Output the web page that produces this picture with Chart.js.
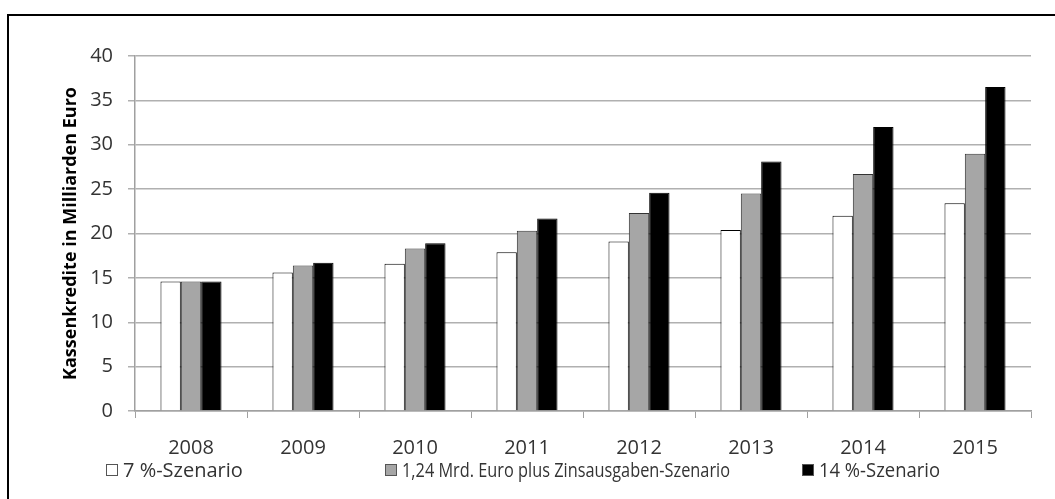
<!DOCTYPE html>
<html>
<head>
<meta charset="utf-8">
<script src="https://cdn.jsdelivr.net/npm/chart.js@4"></script>
<style>
  body { margin: 0; background: #fff; }
  #wrap { position: relative; width: 1055px; height: 499px; }
  #frame { position: absolute; left: 7px; top: 14px; right: 0; bottom: 0;
           border-left: 2px solid #000; border-top: 2px solid #000; pointer-events: none; }
  #legend { position: absolute; left: 0; top: 458px; width: 1055px; height: 24px;
            font-family: "Open Sans", sans-serif; font-size: 20px; color: #333; }
  #legend .item { position: absolute; top: 0; white-space: nowrap; line-height: 24px; }
  #legend .box { position: absolute; left: 0; top: 6px; width: 10px; height: 10px;
                 border: 1px solid #555; }
  #legend .txt { position: absolute; left: 17px; top: 0; display: inline-block;
                 transform-origin: 0 50%; }
</style>
</head>
<body>
<div id="wrap">
  <canvas id="paramChart" width="1055" height="499"></canvas>
  <div id="frame"></div>
  <div id="legend"></div>
</div>
<script>
var years = ['2008', '2009', '2010', '2011', '2012', '2013', '2014', '2015'];
var szenario7 = [14.6, 15.6, 16.6, 17.9, 19.1, 20.4, 22.0, 23.4];
var szenarioZins = [14.6, 16.4, 18.3, 20.3, 22.3, 24.5, 26.7, 29.0];
var szenario14 = [14.6, 16.7, 18.9, 21.7, 24.6, 28.1, 32.0, 36.5];
var seriesLabels = ['7 %-Szenario', '1,24 Mrd. Euro plus Zinsausgaben-Szenario', '14 %-Szenario'];
var yTicks = [0, 5, 10, 15, 20, 25, 30, 35, 40];

var fontFamily = '"Open Sans", sans-serif';
var colors = ['#ffffff', '#a6a6a6', '#000000'];
var legendX = [106, 385, 802];
var legendTextWidth = [120, 328, 121]; // widths of the labels in the original (condensed font)

var chartdata = {
  labels: years,
  datasets: [
    { label: seriesLabels[0], data: szenario7, backgroundColor: colors[0], borderColor: '#000', borderWidth: 1 },
    { label: seriesLabels[1], data: szenarioZins, backgroundColor: colors[1], borderColor: '#333', borderWidth: 1 },
    { label: seriesLabels[2], data: szenario14, backgroundColor: colors[2], borderColor: '#000', borderWidth: 1 }
  ]
};

var ctx = document.getElementById('paramChart');
var barGraph = new Chart(ctx, {
  type: 'bar',
  data: chartdata,
  options: {
    responsive: false,
    animation: false,
    layout: { padding: { top: 56, right: 24, left: 0, bottom: 0 } },
    datasets: { bar: { categoryPercentage: 0.545, barPercentage: 1 } },
    plugins: { legend: { display: false }, tooltip: { enabled: false } },
    scales: {
      x: {
        grid: { drawOnChartArea: false, tickLength: 7, color: '#a0a0a0', lineWidth: 1 },
        border: { color: '#a0a0a0', width: 1.5 },
        ticks: { color: '#333', padding: 18, font: { family: fontFamily, size: 20 } },
        afterFit: function(scale) { scale.height = 88; }
      },
      y: {
        min: 0, max: 40,
        afterBuildTicks: function(scale) { scale.ticks = yTicks.map(function(v) { return { value: v }; }); },
        grid: { color: '#b0b0b0', lineWidth: 1.5, tickLength: 7 },
        border: { color: '#a0a0a0', width: 1.5 },
        ticks: { color: '#333', padding: 15, font: { family: fontFamily, size: 20 } },
        title: { display: true, text: 'Kassenkredite in Milliarden Euro', color: '#000',
                 padding: { top: 60, bottom: 0 },
                 font: { family: fontFamily, size: 18, weight: 'bold' } },
        afterFit: function(scale) { scale.width = 135; }
      }
    }
  }
});

// legend built from the datasets
var legend = document.getElementById('legend');
chartdata.datasets.forEach(function(ds, i) {
  var item = document.createElement('div');
  item.className = 'item';
  item.style.left = legendX[i] + 'px';
  var box = document.createElement('span');
  box.className = 'box';
  box.style.background = ds.backgroundColor;
  var txt = document.createElement('span');
  txt.className = 'txt';
  txt.textContent = ds.label;
  item.appendChild(box);
  item.appendChild(txt);
  legend.appendChild(item);
  var w = txt.getBoundingClientRect().width;
  if (w > legendTextWidth[i]) txt.style.transform = 'scaleX(' + (legendTextWidth[i] / w) + ')';
});
</script>
</body>
</html>
